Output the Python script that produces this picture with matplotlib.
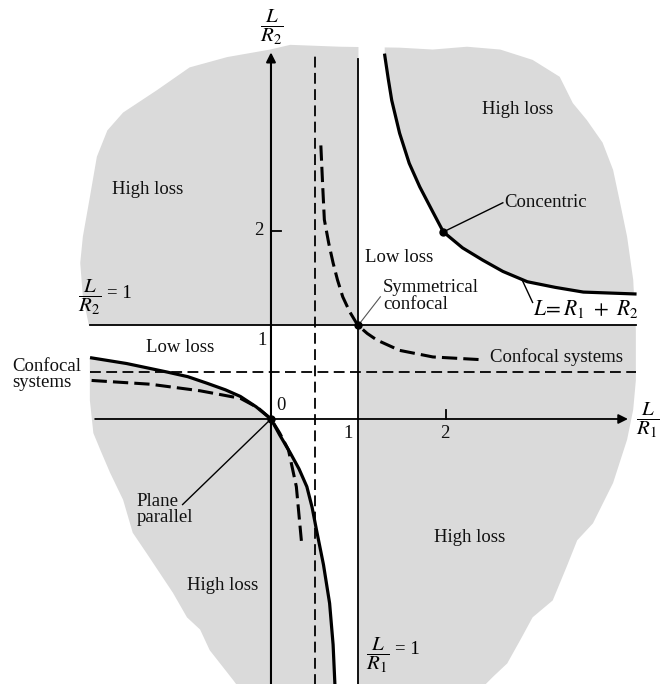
import numpy as np
import matplotlib
matplotlib.use("Agg")
import matplotlib.pyplot as plt
from matplotlib.patches import Polygon

plt.rcParams['font.family'] = ['Liberation Serif', 'DejaVu Serif']
plt.rcParams['mathtext.fontset'] = 'stix'

# outline of the grey (high loss) cloud, in L/R1, L/R2 units
blob_x = [-2.18, -2.15, -2.07, -1.99, -1.87, -1.69, -1.30, -0.93, -0.50, -0.01, 0.22, 0.79,
          1.47, 1.85, 2.24, 2.62, 2.99, 3.30, 3.45, 3.61, 3.79, 3.91, 3.99, 4.07, 4.14, 4.17,
          4.17, 4.14, 4.07, 3.91, 3.68, 3.50, 3.38, 3.22, 2.99, 2.85, 2.70, 2.54, 2.39,
          -0.35, -0.43, -0.70, -0.81, -0.96, -1.12, -1.27, -1.42, -1.58, -1.69, -1.84,
          -1.95, -2.03, -2.07, -2.07, -2.15]
blob_y = [1.66, 1.94, 2.36, 2.79, 3.07, 3.26, 3.50, 3.74, 3.85, 3.93, 3.98, 3.96,
          3.95, 3.93, 3.96, 3.93, 3.82, 3.64, 3.36, 3.18, 2.94, 2.65, 2.30, 1.94, 1.48, 0.95,
          0.41, 0.10, -0.22, -0.68, -1.11, -1.29, -1.57, -1.93, -2.11, -2.35, -2.60, -2.74, -2.88,
          -2.88, -2.78, -2.46, -2.24, -2.11, -1.85, -1.64, -1.43, -1.21, -0.86, -0.57,
          -0.33, -0.15, 0.20, 0.95, 1.30]

# L = R1 + R2 (concentric), upper branch
conc_x = [1.30, 1.34, 1.38, 1.47, 1.58, 1.70, 1.84, 1.97, 2.19, 2.42, 2.65, 2.93, 3.25, 3.57, 4.16]
conc_y = [3.87, 3.62, 3.39, 3.04, 2.72, 2.47, 2.22, 1.99, 1.82, 1.69, 1.57, 1.46, 1.40, 1.35, 1.33]
# same condition, branch through the origin (left part and lower part)
pp_left_x = [-2.05, -1.65, -1.19, -0.95, -0.73, -0.52, -0.35, -0.17, 0.0]
pp_left_y = [0.65, 0.59, 0.50, 0.45, 0.38, 0.31, 0.24, 0.13, 0.0]
pp_low_x = [0.0, 0.10, 0.22, 0.32, 0.41, 0.47, 0.52, 0.60, 0.67, 0.71, 0.73]
pp_low_y = [0.0, -0.17, -0.36, -0.53, -0.72, -0.94, -1.18, -1.55, -1.96, -2.40, -2.81]

# confocal systems, upper branch
conf_x = [0.57, 0.59, 0.61, 0.66, 0.71, 0.76, 0.82, 0.90, 0.99, 1.10, 1.21, 1.47, 1.85, 2.42]
conf_y = [2.91, 2.50, 2.12, 1.87, 1.66, 1.48, 1.30, 1.14, 1.00, 0.91, 0.84, 0.73, 0.66, 0.63]
# confocal, branch through the origin
confl_x = [-2.05, -1.38, -0.81, -0.35, -0.15, 0.0, 0.10, 0.20, 0.29, 0.35]
confl_y = [0.41, 0.37, 0.30, 0.22, 0.12, 0.0, -0.15, -0.33, -0.72, -1.32]

gray = '#dadada'
fig = plt.figure(figsize=(6.62, 6.84), dpi=100)
ax = fig.add_axes([0, 0, 1, 1])
ax.set_xlim(-3.097, 4.469)
ax.set_ylim(-2.819, 4.457)
ax.axis('off')

ax.add_patch(Polygon(np.column_stack([blob_x, blob_y]), closed=True,
                     facecolor=gray, edgecolor='none', zorder=0))

# low loss (stable) regions in white
w1 = ([(1, 1), (-2.4, 1), (-2.4, pp_left_y[0])]
      + list(zip(pp_left_x, pp_left_y)) + list(zip(pp_low_x, pp_low_y))
      + [(pp_low_x[-1], -3.0), (1, -3.0)])
ax.add_patch(Polygon(w1, closed=True, facecolor='white', edgecolor='none', zorder=1))
w2 = ([(1, 1), (4.5, 1), (4.5, conc_y[-1])]
      + list(zip(conc_x[::-1], conc_y[::-1]))
      + [(conc_x[0], 4.5), (1, 4.5)])
ax.add_patch(Polygon(w2, closed=True, facecolor='white', edgecolor='none', zorder=1))

k = dict(color='black', zorder=3, solid_joinstyle='round', dash_joinstyle='round')
# straight lines
ax.plot([1, 1], [-2.9, 3.83], lw=1.3, **k)
ax.plot([-2.07, 4.17], [1, 1], lw=1.3, **k)
ax.plot([0.5, 0.5], [-2.9, 3.87], lw=1.3, dashes=(6, 3), **k)
ax.plot([-2.07, 4.17], [0.5, 0.5], lw=1.3, dashes=(6, 3), **k)
# axes with arrows
ax.annotate('', xy=(4.08, 0), xytext=(-2.01, 0),
            arrowprops=dict(arrowstyle='-|>', lw=1.3, color='black',
                            mutation_scale=14, shrinkA=0, shrinkB=0), zorder=3)
ax.annotate('', xy=(0, 3.90), xytext=(0, -2.9),
            arrowprops=dict(arrowstyle='-|>', lw=1.5, color='black',
                            mutation_scale=14, shrinkA=0, shrinkB=0), zorder=3)
ax.plot([0, 0.11], [2, 2], lw=1.3, **k)
ax.plot([2, 2], [0, 0.10], lw=1.3, **k)

# curves
ax.plot(conc_x, conc_y, lw=2.3, **k)
ax.plot(pp_left_x, pp_left_y, lw=2.3, **k)
ax.plot(pp_low_x, pp_low_y, lw=2.3, **k)
ax.plot(conf_x, conf_y, lw=2.2, dashes=(5, 2), **k)
ax.plot(confl_x, confl_y, lw=2.2, dashes=(5, 2), **k)

# dots
ax.plot([1, 1.97, 0], [1, 1.99, 0], 'o', ms=5, color='black', zorder=4)

# leaders
ax.plot([0, -1.01], [0, -0.91], lw=1.0, color='black', zorder=3)
ax.plot([1, 1.25], [1, 1.30], lw=0.8, color='#555555', zorder=3)
ax.plot([1.97, 2.65], [1.99, 2.30], lw=1.0, color='black', zorder=3)
ax.plot([2.87, 2.99], [1.48, 1.24], lw=1.0, color='black', zorder=3)

fs = 13.5
t = dict(fontsize=fs, color='#111111', zorder=5)
ax.text(-1.41, 2.44, 'High loss', ha='center', va='center', **t)
ax.text(2.82, 3.29, 'High loss', ha='center', va='center', **t)
ax.text(2.27, -1.26, 'High loss', ha='center', va='center', **t)
ax.text(-0.55, -1.77, 'High loss', ha='center', va='center', **t)
ax.text(1.47, 1.72, 'Low loss', ha='center', va='center', **t)
ax.text(-1.04, 0.76, 'Low loss', ha='center', va='center', **t)
ax.text(1.28, 1.31, 'Symmetrical\nconfocal', ha='left', va='center', linespacing=0.95, **t)
ax.text(2.67, 2.30, 'Concentric', ha='left', va='center', **t)
ax.text(2.50, 0.66, 'Confocal systems', ha='left', va='center', **t)
ax.text(-2.96, 0.47, 'Confocal\nsystems', ha='left', va='center', linespacing=0.95, **t)
ax.text(-1.54, -0.96, 'Plane\nparallel', ha='left', va='center', linespacing=0.95, **t)
ax.text(2.99, 1.17, r'$L\!=R_1\ +\ R_2$', ha='left', va='center', fontsize=15.5, zorder=5)

# tick labels
ax.text(-0.10, 0.84, '1', ha='center', va='center', **t)
ax.text(-0.14, 2.0, '2', ha='center', va='center', **t)
ax.text(0.11, 0.14, '0', ha='center', va='center', **t)
ax.text(0.88, -0.15, '1', ha='center', va='center', **t)
ax.text(1.99, -0.15, '2', ha='center', va='center', **t)

# axis labels
m = dict(fontsize=15, ha='center', va='center', zorder=5)
ax.text(0.01, 4.17, r'$\dfrac{L}{R_2}$', **m)
ax.text(4.31, -0.02, r'$\dfrac{L}{R_1}$', **m)
ax.text(-2.07, 1.29, r'$\dfrac{L}{R_2}$', **m)
ax.text(-1.87, 1.33, '= 1', ha='left', va='center', fontsize=fs, zorder=5)
ax.text(1.22, -2.51, r'$\dfrac{L}{R_1}$', **m)
ax.text(1.42, -2.45, '= 1', ha='left', va='center', fontsize=fs, zorder=5)

fig.savefig('out.png', dpi=100)
